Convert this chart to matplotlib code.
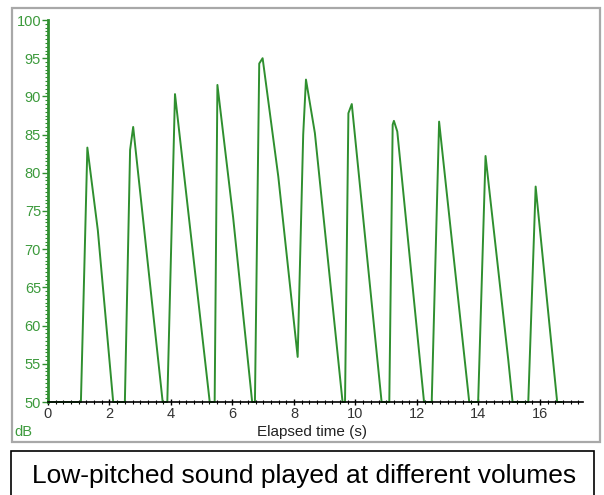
import matplotlib.pyplot as plt
from matplotlib.patches import Rectangle
from matplotlib.ticker import MultipleLocator

# --- datos (tiempo en s, nivel en dB) ---
tiempo = [0.0, 1.07, 1.18, 1.28, 1.62, 2.12,
          2.50, 2.67, 2.77, 3.73,
          3.88, 4.13, 5.26,
          5.42, 5.51, 6.02, 6.64,
          6.73, 6.87, 6.98, 7.49, 8.12,
          8.30, 8.39, 8.68, 9.58,
          9.66, 9.77, 9.88, 10.85,
          11.10, 11.21, 11.25, 11.36, 12.23,
          12.48, 12.72, 13.70,
          13.99, 14.23, 14.97, 15.11,
          15.62, 15.86, 16.56, 16.70]
nivel_db = [50, 50, 67.3, 83.3, 72.5, 50,
            50, 83.0, 86.0, 50,
            50, 90.3, 50,
            50, 91.5, 74.2, 50,
            50, 94.3, 95.0, 79.5, 55.9,
            85.0, 92.2, 85.2, 50,
            50, 87.8, 89.0, 50,
            50, 86.3, 86.8, 85.4, 50,
            50, 86.7, 50,
            50, 82.2, 55.5, 50,
            50, 78.2, 50, 50]

y_ticks = [50, 55, 60, 65, 70, 75, 80, 85, 90, 95, 100]
x_ticks = [0, 2, 4, 6, 8, 10, 12, 14, 16]

verde = '#2f8f2f'
verde_txt = '#3c9a3c'

plt.rcParams['font.family'] = ['Liberation Sans', 'DejaVu Sans']
fig = plt.figure(figsize=(6.04, 4.95), dpi=100)

# marco gris del gráfico y caja del título
fig.patches.append(Rectangle((12 / 604, 53 / 495), 588 / 604, 434 / 495,
                             transform=fig.transFigure, fill=False,
                             edgecolor='#a8a8a8', lw=1.6))
fig.patches.append(Rectangle((11 / 604, -0.02), 583 / 604, 44 / 495 + 0.02,
                             transform=fig.transFigure, fill=False,
                             edgecolor='black', lw=1.2))

ax = fig.add_axes([48 / 604, 93 / 495, 535 / 604, 382 / 495])
ax.plot(tiempo, nivel_db, color=verde, lw=1.4, clip_on=False, zorder=2)

ax.set_xlim(0, 17.4)
ax.set_ylim(50, 100)
ax.set_yticks(y_ticks)
ax.set_xticks(x_ticks)
ax.xaxis.set_minor_locator(MultipleLocator(0.25))
ax.yaxis.set_minor_locator(MultipleLocator(0.5))

for s in ['top', 'right']:
    ax.spines[s].set_visible(False)
ax.spines['left'].set_color(verde)
ax.spines['left'].set_linewidth(2.0)
ax.spines['bottom'].set_color('black')
ax.spines['bottom'].set_linewidth(1.2)
ax.spines['bottom'].set_zorder(3)

ax.tick_params(axis='y', which='major', colors=verde, labelcolor=verde_txt,
               labelsize=10.5, length=4, width=1, pad=1)
ax.tick_params(axis='y', which='minor', colors=verde, length=2, width=0.8)
ax.tick_params(axis='x', which='major', direction='inout', length=5,
               width=1, labelsize=10.5, labelcolor='#333333', pad=1)
ax.tick_params(axis='x', which='minor', direction='inout', length=3, width=0.8)

fig.text(312 / 604, 1 - 432 / 495, 'Elapsed time (s)', ha='center',
         va='center', fontsize=11, color='#222222')
fig.text(14 / 604, 1 - 432 / 495, 'dB', ha='left', va='center',
         fontsize=10.5, color=verde_txt)
fig.text(304 / 604, 1 - 476 / 495, 'Low-pitched sound played at different volumes',
         ha='center', va='center', fontsize=19, color='black')

fig.savefig('out.png', dpi=100)
